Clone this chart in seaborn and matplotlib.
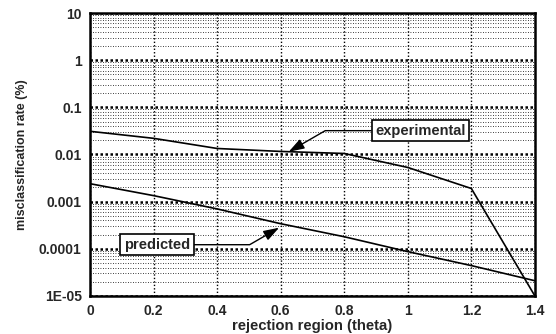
import matplotlib
matplotlib.use("Agg")
import matplotlib.pyplot as plt
import seaborn as sns
import numpy as np
import pandas as pd
from matplotlib.ticker import FixedLocator, LogLocator, NullFormatter

theta = [0.0, 0.2, 0.4, 0.6, 0.8, 1.0, 1.2, 1.4]
experimental = [0.031, 0.022, 0.0134, 0.0116, 0.0105, 0.0053, 0.0019, 0.00001]
predicted = [0.0024, 0.00134, 0.0007, 0.00034, 0.00018, 0.000087, 0.000044, 0.000021]
x_ticks = [0, 0.2, 0.4, 0.6, 0.8, 1.0, 1.2, 1.4]
x_tick_labels = ["0", "0.2", "0.4", "0.6", "0.8", "1", "1.2", "1.4"]
y_ticks = [1e-5, 1e-4, 1e-3, 1e-2, 1e-1, 1, 10]
y_tick_labels = ["1E-05", "0.0001", "0.001", "0.01", "0.1", "1", "10"]

sns.set_style("white")
plt.rcParams['font.family'] = ['Liberation Sans', 'DejaVu Sans']

df = pd.DataFrame({
    "theta": theta * 2,
    "rate": experimental + predicted,
    "series": ["experimental"] * len(theta) + ["predicted"] * len(theta),
})

fig = plt.figure(figsize=(5.56, 3.34), dpi=100)
ax = fig.add_axes([0.162, 0.114, 0.8, 0.847])

sns.lineplot(data=df, x="theta", y="rate", units="series", estimator=None,
             color="black", linewidth=1.2, ax=ax, legend=False)

ax.set_yscale("log")
ax.set_xlim(0, 1.4)
ax.set_ylim(1e-5, 10)

ax.set_xticks(x_ticks)
ax.set_xticklabels(x_tick_labels, fontweight="bold", fontsize=10)
ax.set_yticks(y_ticks)
ax.set_yticklabels(y_tick_labels, fontweight="bold", fontsize=10)
ax.yaxis.set_minor_locator(LogLocator(base=10, subs=np.arange(2, 10)))
ax.yaxis.set_minor_formatter(NullFormatter())
ax.xaxis.set_minor_locator(FixedLocator(np.arange(0, 1.41, 0.02)))

ax.grid(True, which="major", axis="x", color="black", linestyle=(0, (1, 1.5)), linewidth=1.0)
ax.grid(True, which="major", axis="y", color="black", linestyle=(0, (1, 1)), linewidth=1.8)
ax.grid(True, which="minor", axis="y", color="black", linestyle=(0, (1, 2)), linewidth=0.6)

for s in ax.spines.values():
    s.set_linewidth(1.8)
    s.set_color("black")

ax.tick_params(axis="both", which="major", direction="inout", length=6, width=1.5, pad=3)
ax.tick_params(axis="y", which="minor", direction="inout", length=4, width=1.0)
ax.tick_params(axis="x", which="minor", length=0)

ax.set_xlabel("rejection region (theta)", fontweight="bold", fontsize=10.7, labelpad=0.5)
ax.set_ylabel("misclassification rate (%)", fontweight="bold", fontsize=9, labelpad=8)

box = dict(boxstyle="square,pad=0.25", fc="white", ec="black", lw=1.2)
ax.annotate("experimental", xy=(0.625, 0.0114), xytext=(1.04, 0.032),
            fontsize=10.5, fontweight="bold", ha="center", va="center", bbox=box,
            arrowprops=dict(arrowstyle="-|>,head_length=0.9,head_width=0.3", color="black",
                            lw=1.0, connectionstyle="angle,angleA=0,angleB=30,rad=0",
                            shrinkA=0, shrinkB=0))
ax.annotate("predicted", xy=(0.595, 0.00028), xytext=(0.21, 0.000122),
            fontsize=10.5, fontweight="bold", ha="center", va="center", bbox=box,
            arrowprops=dict(arrowstyle="-|>,head_length=0.9,head_width=0.3", color="black",
                            lw=1.0, connectionstyle="angle,angleA=0,angleB=30,rad=0",
                            shrinkA=0, shrinkB=0))

fig.savefig("out.png", dpi=100)
